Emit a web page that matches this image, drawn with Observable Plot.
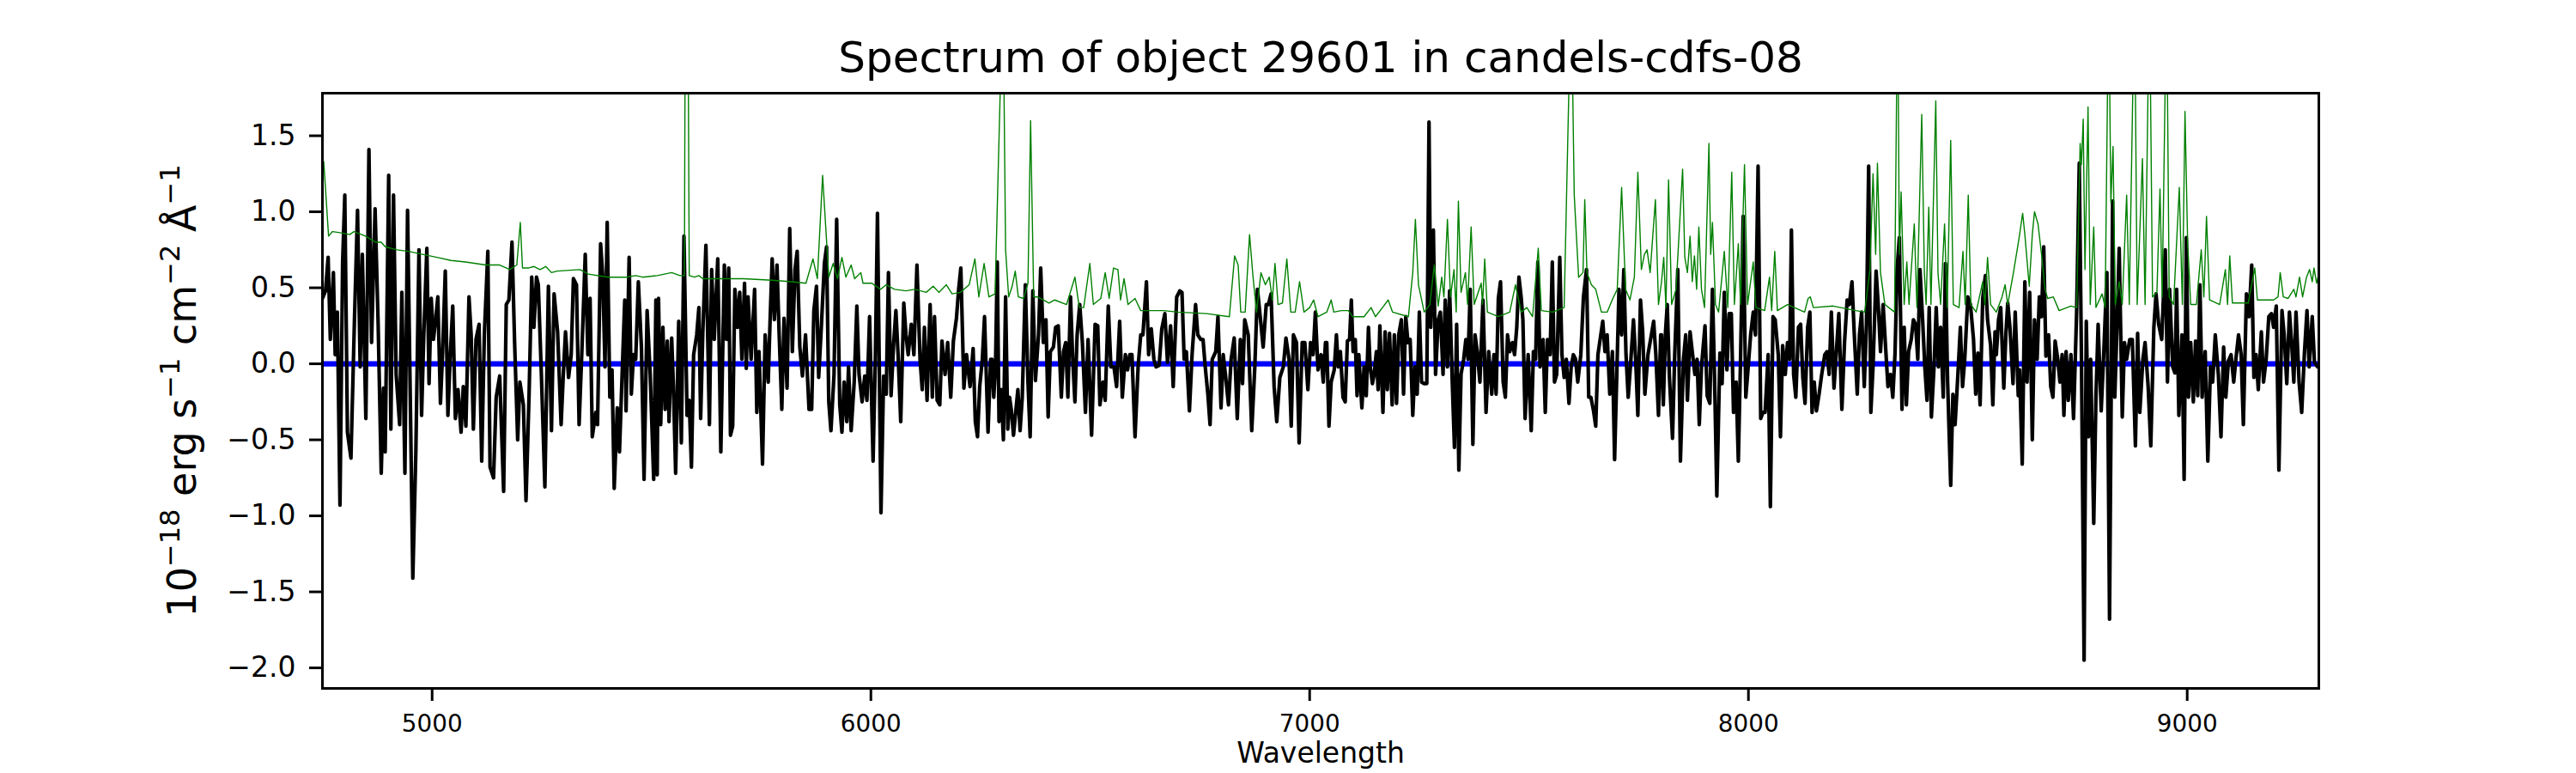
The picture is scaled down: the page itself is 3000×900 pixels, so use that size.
<!DOCTYPE html>
<html><head><meta charset="utf-8">
<script src="https://cdn.jsdelivr.net/npm/d3@7"></script>
<script src="https://cdn.jsdelivr.net/npm/@observablehq/plot@0.6"></script>
<style>body{margin:0;background:#fff;} svg{display:block;}</style>
</head><body><div id="chart"></div>
<script>
const title = "Spectrum of object 29601 in candels-cdfs-08";
const xLabel = "Wavelength";
// y label parts: [text, isSuperscript]
const yLabelParts = [["10", false], ["\u221218", true], [" erg s", false], ["\u22121", true], [" cm", false], ["\u22122", true], [" \u00c5", false], ["\u22121", true]];
const yLabel = yLabelParts.map(p => p[0]).join("");
const xTicks = [5000, 6000, 7000, 8000, 9000];
const yTicks = [-2, -1.5, -1, -0.5, 0, 0.5, 1, 1.5];
const xDomain = [4750, 9300];
const yDomain = [-2.135, 1.78];
const zeroLevel = [0];

// observed flux [wavelength, flux]
const fluxPoints = [
[4750,0.43],[4757,0.48],[4763,0.70],[4768,0.16],[4775,0.60],[4779,0.06],[4784,0.34],[4790,-0.93],[4796,0.67],[4801,1.11],[4807,-0.45],[4815,-0.62],[4823,0.29],[4830,1.01],[4836,-0.02],[4841,0.72],[4849,-0.36],[4856,1.41],[4862,0.14],[4870,1.02],[4877,0.26],[4884,-0.72],[4889,-0.16],[4893,-0.58],[4901,1.24],[4906,-0.43],[4912,1.11],[4918,-0.07],[4926,-0.40],[4931,0.47],[4938,-0.72],[4944,1.01],[4951,-0.38],[4956,-1.41],[4963,-0.57],[4970,0.75],[4976,-0.34],[4981,0.19],[4988,0.76],[4993,-0.13],[4998,0.43],[5003,0.16],[5008,0.29],[5013,0.44],[5019,-0.26],[5024,0.08],[5030,0.61],[5036,-0.34],[5041,0.03],[5047,0.38],[5053,-0.36],[5059,-0.17],[5066,-0.45],[5071,-0.15],[5077,-0.41],[5084,0.44],[5089,0.19],[5094,-0.43],[5100,0.16],[5107,0.26],[5113,-0.64],[5119,0.19],[5127,0.74],[5132,-0.68],[5140,-0.75],[5146,-0.22],[5154,-0.08],[5163,-0.84],[5169,0.39],[5175,0.42],[5182,0.80],[5188,0.14],[5195,-0.50],[5200,-0.12],[5208,-0.27],[5214,-0.90],[5221,-0.20],[5227,0.57],[5232,0.24],[5238,0.57],[5242,0.52],[5249,-0.07],[5257,-0.81],[5265,0.51],[5272,-0.44],[5278,0.46],[5286,0.21],[5294,-0.40],[5299,-0.07],[5304,0.21],[5311,-0.09],[5317,0.06],[5322,0.56],[5329,0.52],[5335,-0.40],[5342,0.14],[5349,0.72],[5355,0.06],[5360,0.43],[5365,-0.48],[5373,-0.32],[5377,-0.40],[5384,0.79],[5389,0.57],[5394,-0.02],[5399,0.93],[5405,-0.22],[5410,-0.04],[5415,-0.82],[5422,-0.29],[5427,-0.58],[5433,-0.07],[5439,0.42],[5442,-0.31],[5449,0.70],[5454,-0.20],[5459,0.06],[5464,0.03],[5470,0.54],[5477,0.11],[5483,-0.76],[5490,0.35],[5497,-0.07],[5505,-0.76],[5510,0.42],
[5513,-0.73],[5516,0.43],[5521,-0.40],[5526,0.24],[5531,-0.30],[5536,0.15],[5540,-0.38],[5546,0.17],[5550,-0.15],[5555,-0.72],[5562,0.28],[5568,-0.52],[5574,0.84],[5581,-0.34],[5586,-0.24],[5591,-0.68],[5596,0.06],[5603,0.19],[5608,0.37],[5612,-0.36],[5617,0.21],[5624,0.78],[5632,-0.40],[5637,0.62],[5643,0.16],[5651,0.69],[5658,-0.58],[5666,0.65],[5671,0.16],[5676,0.63],[5680,-0.47],[5685,-0.41],[5690,0.49],[5696,0.24],[5701,0.47],[5706,0.03],[5712,0.53],[5716,-0.03],[5720,0.44],[5727,0.03],[5735,0.49],[5740,-0.32],[5745,0.08],[5753,-0.66],[5759,0.19],[5766,-0.12],[5770,0.26],[5775,0.69],[5780,0.29],[5786,0.65],[5791,0.19],[5797,-0.30],[5802,0.30],[5809,-0.16],[5815,0.89],[5821,0.08],[5827,0.62],[5832,0.74],[5838,0.11],[5844,-0.08],[5851,0.19],[5859,-0.30],[5865,-0.30],[5870,0.35],[5876,0.51],[5881,-0.09],[5887,0.24],[5894,0.66],[5899,0.77],[5904,-0.25],[5909,-0.44],[5916,-0.07],[5922,0.95],[5929,-0.27],[5934,-0.45],[5939,-0.12],[5945,-0.38],[5949,-0.02],[5955,-0.44],[5962,-0.12],[5968,0.38],[5973,-0.07],[5980,-0.25],[5986,-0.08],[5991,-0.24],[5997,0.31],[6005,-0.64],[6010,0.01],[6015,0.99],[6023,-0.98],[6029,-0.08],[6035,-0.20],[6040,0.60],[6046,-0.21],[6052,0.14],[6057,0.35],[6062,0.06],[6068,-0.38],[6075,0.40],[6080,0.19],[6085,0.06],[6092,0.26],[6098,0.06],[6105,0.65],[6112,0.03],[6117,-0.17],[6122,0.24],[6128,-0.24],[6135,0.39],[6140,-0.22],[6145,0.31],[6151,-0.24],[6157,-0.27],[6162,0.15],[6169,-0.07],[6175,0.14],[6182,-0.22],[6188,0.15],[6195,0.30],[6200,0.49],[6205,0.63],[6212,-0.16],[6218,0.06],[6226,-0.15],[6233,0.10],[6238,-0.38],[6243,-0.48],[6248,-0.15],[6254,0.03],[6259,0.31],[6267,-0.45],[6273,0.03],
[6276,0.03],[6280,-0.22],[6284,-0.02],[6288,0.67],[6292,-0.38],[6297,-0.17],[6302,-0.50],[6307,0.44],[6312,-0.43],[6316,-0.22],[6320,-0.30],[6325,-0.47],[6329,-0.35],[6335,-0.17],[6340,-0.44],[6345,-0.22],[6352,0.52],[6358,-0.12],[6363,-0.48],[6369,0.48],[6375,-0.11],[6382,0.19],[6387,0.63],[6393,0.14],[6399,0.29],[6404,-0.35],[6409,0.08],[6416,0.11],[6421,0.24],[6427,0.25],[6434,-0.22],[6439,0.08],[6444,0.14],[6449,-0.22],[6455,0.44],[6460,0.03],[6465,-0.25],[6470,0.19],[6476,0.39],[6482,0.14],[6489,-0.32],[6495,0.16],[6503,-0.47],[6511,0.26],[6517,0.25],[6522,-0.27],[6529,-0.12],[6534,-0.24],[6541,0.38],[6547,-0.02],[6554,-0.02],[6560,-0.15],[6567,0.28],[6573,-0.22],[6580,0.06],[6585,-0.04],[6590,0.06],[6595,0.06],[6602,-0.48],[6609,-0.02],[6615,0.19],[6620,0.19],[6628,0.54],[6633,0.06],[6639,0.23],[6645,0.03],[6650,-0.02],[6657,-0.01],[6663,0.23],[6670,0.33],[6676,0.01],[6683,0.25],[6689,-0.15],[6697,0.44],[6704,0.48],[6709,0.47],[6714,0.03],[6719,0.08],[6726,-0.31],[6732,0.06],[6740,0.39],[6745,0.19],[6752,0.16],[6757,0.16],[6762,-0.02],[6768,-0.20],[6773,-0.40],[6778,0.03],[6786,0.08],[6791,0.31],[6798,-0.29],[6803,0.06],[6808,-0.07],[6815,-0.27],[6821,0.03],[6828,0.17],[6835,-0.36],[6842,0.16],[6847,-0.13],[6852,0.29],[6860,0.19],[6868,-0.44],[6875,-0.02],[6881,0.49],[6888,0.29],[6894,0.11],[6901,0.39],[6906,0.39],[6912,0.46],[6919,-0.15],[6925,-0.38],[6932,-0.09],[6940,-0.02],[6946,0.17],[6953,0.03],[6958,-0.41],[6963,0.19],[6970,0.14],[6976,-0.52],[6983,0.14],[6989,0.14],[6996,-0.17],[7002,0.14],[7008,0.06],[7013,0.34],[7019,-0.04],[7026,0.06],[7031,-0.12],[7036,0.14],
[7039,0.14],[7044,-0.41],[7049,-0.12],[7056,-0.04],[7061,0.19],[7065,-0.02],[7070,0.08],[7076,-0.22],[7081,-0.25],[7086,0.15],[7091,0.16],[7095,0.42],[7099,0.08],[7104,0.16],[7108,-0.21],[7112,0.06],[7119,-0.29],[7124,-0.02],[7129,-0.21],[7134,0.24],[7138,-0.02],[7143,-0.13],[7147,-0.07],[7152,0.08],[7156,-0.17],[7160,0.25],[7167,-0.32],[7172,0.21],[7177,-0.17],[7182,0.20],[7188,-0.27],[7193,0.19],[7198,-0.26],[7203,0.19],[7209,0.29],[7214,-0.20],[7219,0.31],[7224,0.14],[7229,0.16],[7235,-0.34],[7240,-0.02],[7245,-0.20],[7250,0.34],[7255,-0.12],[7261,-0.13],[7267,-0.13],[7272,1.59],[7276,0.24],[7282,0.88],[7287,-0.07],[7293,0.29],[7298,0.34],[7304,-0.07],[7309,0.42],[7314,-0.02],[7319,0.48],[7325,-0.12],[7330,-0.55],[7335,0.26],[7340,-0.70],[7345,-0.07],[7351,0.03],[7356,0.16],[7361,0.03],[7366,0.49],[7372,-0.53],[7377,0.19],[7382,0.08],[7388,-0.12],[7395,0.42],[7402,-0.32],[7408,0.08],[7415,-0.20],[7420,0.06],[7425,-0.20],[7430,0.43],[7435,0.54],[7441,-0.12],[7446,-0.22],[7451,0.19],[7456,0.08],[7462,0.14],[7467,0.06],[7472,0.24],[7477,0.57],[7482,0.44],[7486,0.29],[7491,-0.36],[7498,0.06],[7505,-0.44],[7510,0.08],[7515,0.03],[7520,0.67],[7525,-0.02],[7532,0.16],[7537,-0.32],[7542,0.16],[7548,0.06],[7553,0.67],[7558,-0.12],[7563,-0.07],[7570,0.70],[7575,0.06],[7580,-0.09],[7585,0.03],[7591,-0.26],[7596,-0.02],[7601,0.06],[7606,0.03],[7611,-0.12],[7618,0.06],[7624,0.44],[7631,0.62],[7636,-0.22],[7641,-0.22],[7647,-0.31],[7652,-0.41],[7657,0.06],[7662,0.16],[7668,0.28],[7673,0.08],[7678,0.19],[7684,-0.20],[7690,0.08],[7695,-0.63],[7700,-0.07],[7705,0.49],[7711,0.19],[7716,0.62],[7721,0.06],[7726,-0.22],[7731,-0.02],[7738,0.29],[7743,0.03],[7748,-0.34],[7754,0.42],[7759,0.21],[7764,-0.20],[7771,0.06],[7777,0.16],[7784,0.28],[7789,0.06],[7795,-0.34],[7800,0.19],
[7802,0.19],[7806,-0.27],[7811,0.21],[7815,0.39],[7820,-0.09],[7827,-0.49],[7832,0.06],[7839,0.62],[7845,-0.64],[7852,0.03],[7857,0.19],[7861,-0.24],[7867,0.21],[7872,0.08],[7878,-0.07],[7883,0.03],[7888,-0.40],[7893,-0.02],[7901,0.25],[7906,-0.21],[7912,-0.26],[7918,0.49],[7923,-0.12],[7928,-0.87],[7935,0.07],[7940,-0.13],[7945,0.47],[7951,-0.04],[7956,0.33],[7961,0.33],[7966,-0.32],[7972,-0.12],[7977,-0.64],[7982,0.03],[7988,0.97],[7994,-0.22],[7999,-0.04],[8005,0.19],[8011,0.34],[8016,0.19],[8022,1.30],[8028,-0.36],[8033,-0.32],[8038,-0.32],[8045,0.06],[8050,-0.94],[8056,0.31],[8061,0.29],[8068,0.06],[8073,-0.48],[8078,0.12],[8084,-0.07],[8089,0.14],[8094,0.03],[8098,0.88],[8103,-0.07],[8108,-0.22],[8114,0.24],[8119,0.26],[8124,-0.09],[8129,-0.26],[8135,0.24],[8140,0.34],[8145,-0.32],[8150,-0.12],[8155,-0.31],[8161,-0.20],[8167,-0.07],[8174,0.06],[8179,0.08],[8184,-0.07],[8189,0.34],[8195,-0.16],[8200,0.06],[8206,0.33],[8213,-0.30],[8219,0.14],[8225,0.42],[8230,0.39],[8236,0.54],[8241,0.21],[8248,-0.20],[8253,0.19],[8258,0.34],[8264,-0.15],[8269,0.26],[8274,1.30],[8279,-0.32],[8284,-0.02],[8291,0.61],[8296,0.38],[8301,0.08],[8307,0.39],[8312,0.14],[8318,-0.15],[8324,-0.07],[8329,-0.22],[8334,0.06],[8339,0.63],[8344,0.83],[8350,-0.30],[8355,0.24],[8360,-0.27],[8365,0.08],[8371,0.16],[8376,0.29],[8381,0.26],[8386,0.03],[8391,0.62],[8397,0.29],[8402,-0.02],[8407,-0.24],[8412,0.37],[8417,-0.35],[8423,-0.02],[8428,0.37],[8433,-0.02],[8438,0.24],[8444,-0.22],[8449,0.66],[8454,-0.12],[8461,-0.80],[8466,-0.20],[8471,-0.40],[8477,-0.09],[8483,0.24],[8488,-0.15],[8493,0.03],[8500,0.44],[8506,0.39],[8513,0.16],[8518,-0.20],[8523,0.07],[8528,-0.27],[8534,0.43],[8540,0.58],[8545,0.29],[8552,0.12],[8557,-0.27],[8562,0.21],
[8565,0.06],[8570,0.29],[8575,0.37],[8582,-0.16],[8587,0.21],[8591,0.40],[8596,0.24],[8603,-0.13],[8608,0.34],[8615,-0.21],[8618,-0.04],[8624,-0.66],[8630,0.54],[8635,-0.12],[8641,0.47],[8647,-0.50],[8652,0.29],[8658,0.03],[8663,0.44],[8668,0.31],[8673,0.77],[8678,0.05],[8684,0.19],[8689,-0.15],[8694,-0.22],[8699,0.15],[8705,0.03],[8710,-0.12],[8715,0.06],[8719,-0.34],[8724,0.08],[8729,-0.24],[8735,0.06],[8741,-0.36],[8748,0.34],[8754,1.32],[8759,0.03],[8765,-1.95],[8770,0.28],[8775,-0.48],[8780,0.03],[8787,-1.05],[8792,-0.22],[8797,0.26],[8804,-0.31],[8810,0.08],[8817,0.60],[8823,-1.68],[8830,1.07],[8835,-0.22],[8840,0.24],[8845,0.76],[8852,-0.35],[8857,0.14],[8862,0.03],[8869,0.16],[8875,0.16],[8882,-0.54],[8887,0.20],[8892,-0.32],[8899,0.03],[8904,0.14],[8911,-0.15],[8917,-0.54],[8924,0.24],[8929,0.46],[8935,0.26],[8942,0.16],[8950,0.75],[8955,-0.12],[8960,0.49],[8967,-0.02],[8972,-0.06],[8976,0.49],[8981,-0.34],[8988,0.19],[8993,-0.76],[8998,0.83],[9003,-0.22],[9008,0.14],[9014,-0.25],[9019,0.15],[9024,-0.21],[9029,0.52],[9034,-0.22],[9041,0.08],[9047,-0.64],[9053,-0.02],[9058,-0.12],[9064,0.19],[9071,-0.07],[9077,-0.48],[9083,0.11],[9088,-0.22],[9094,0.02],[9100,0.06],[9106,-0.12],[9111,0.03],[9117,0.19],[9123,0.06],[9128,-0.40],[9135,0.46],[9141,0.31],[9147,0.65],[9152,-0.09],[9157,0.06],[9162,-0.17],[9169,0.21],[9174,-0.12],[9180,0.03],[9186,0.31],[9192,0.33],[9197,0.24],[9203,0.38],[9209,-0.70],[9216,0.35],[9221,0.19],[9227,-0.13],[9233,0.34],[9238,0.14],[9243,-0.12],[9248,0.34],[9255,-0.12],[9261,-0.32],[9267,0.06],[9273,0.35],[9278,-0.02],[9285,0.31],[9290,0.01],[9297,-0.02]
];

// noise / sky spectrum [wavelength, value] (values above the top are clipped)
const skyPoints = [
[4753,1.33],[4764,0.84],[4773,0.87],[4796,0.86],[4812,0.85],[4822,0.87],[4848,0.84],[4871,0.80],[4884,0.80],[4893,0.77],[4920,0.75],[4946,0.74],[4978,0.72],[5011,0.70],[5043,0.68],[5076,0.67],[5122,0.65],[5154,0.65],[5177,0.62],[5193,0.65],[5201,0.93],[5206,0.63],[5219,0.63],[5232,0.64],[5246,0.62],[5259,0.64],[5272,0.60],[5285,0.61],[5337,0.62],[5356,0.59],[5402,0.57],[5441,0.57],[5464,0.58],[5480,0.57],[5513,0.58],
[5546,0.60],[5565,0.58],[5575,0.58],[5577,2.5],[5583,2.5],[5586,0.58],[5598,0.57],[5608,0.58],[5617,0.56],[5643,0.56],[5709,0.56],[5774,0.55],[5819,0.54],[5852,0.53],[5868,0.69],[5878,0.56],[5890,1.24],[5896,0.95],[5904,0.57],[5914,0.66],[5924,0.56],[5934,0.70],[5943,0.57],[5955,0.65],[5963,0.56],[5977,0.60],[5982,0.53],[6002,0.53],[6022,0.49],[6035,0.52],[6054,0.49],[6080,0.48],[6100,0.49],[6126,0.47],[6142,0.51],[6155,0.47],[6172,0.52],[6185,0.46],[6204,0.47],[6224,0.52],[6237,0.69],[6246,0.44],[6258,0.66],[6269,0.44],
[6283,0.46],[6301,2.5],[6307,0.75],[6314,0.44],[6322,0.51],[6329,0.61],[6336,0.44],[6348,0.43],[6358,0.53],[6364,1.60],[6371,0.44],[6380,0.44],[6406,0.40],[6419,0.42],[6446,0.39],[6465,0.57],[6475,0.37],[6485,0.37],[6499,0.66],[6507,0.39],[6524,0.43],[6534,0.60],[6543,0.43],[6553,0.63],[6563,0.62],[6569,0.42],[6577,0.56],[6586,0.39],[6602,0.43],[6615,0.35],[6667,0.35],[6700,0.34],[6765,0.33],[6817,0.31],[6829,0.71],[6837,0.65],[6843,0.34],[6853,0.34],[6863,0.85],[6871,0.57],[6879,0.34],[6889,0.60],[6899,0.52],[6908,0.57],[6915,0.42],[6921,0.66],[6928,0.39],[6938,0.40],[6948,0.69],[6957,0.34],[6967,0.34],[6977,0.54],[6987,0.34],[7000,0.37],[7009,0.42],[7019,0.31],[7039,0.34],
[7049,0.42],[7055,0.34],[7072,0.35],[7088,0.35],[7098,0.31],[7124,0.31],[7140,0.37],[7150,0.31],[7166,0.37],[7179,0.42],[7189,0.34],[7225,0.31],[7235,0.60],[7241,0.95],[7248,0.52],[7261,0.34],[7274,0.39],[7284,0.65],[7293,0.38],[7301,0.57],[7306,0.44],[7314,0.95],[7321,0.44],[7329,0.62],[7334,0.34],[7339,1.07],[7345,0.47],[7355,0.60],[7360,0.39],[7368,0.90],[7375,0.39],[7391,0.53],[7394,0.39],[7399,0.69],[7405,0.34],[7430,0.31],[7456,0.34],[7469,0.52],[7482,0.34],[7495,0.37],[7508,0.31],[7521,0.76],[7528,0.35],[7554,0.34],[7580,0.37],[7596,2.5],[7603,1.11],[7613,0.57],[7623,0.60],[7627,1.08],[7632,0.60],[7642,0.52],[7652,0.49],[7665,0.34],[7678,0.34],[7691,0.43],[7701,0.49],[7711,1.16],[7720,0.49],[7730,0.42],[7740,0.57],[7748,1.26],[7756,0.62],[7763,0.72],[7769,0.75],[7776,0.60],[7788,1.08],[7795,0.39],[7802,0.54],
[7807,0.70],[7812,0.37],[7818,1.21],[7825,0.39],[7835,0.49],[7850,1.28],[7855,0.70],[7861,0.60],[7867,0.84],[7872,0.54],[7877,0.71],[7882,0.49],[7887,0.90],[7893,0.49],[7900,0.37],[7910,1.45],[7914,0.72],[7918,0.93],[7925,0.39],[7932,0.34],[7945,0.74],[7953,0.37],[7962,1.26],[7968,0.39],[7977,0.79],[7982,0.39],[7991,1.31],[7998,0.39],[8011,0.67],[8017,0.37],[8037,0.35],[8048,0.57],[8053,0.35],[8060,0.74],[8066,0.35],[8089,0.39],[8128,0.34],[8136,0.43],[8141,0.44],[8148,0.37],[8193,0.38],[8245,0.35],[8265,0.34],[8277,0.62],[8284,1.25],[8290,0.72],[8294,1.32],[8301,0.60],[8311,0.39],[8333,0.34],[8340,2.5],[8344,0.72],[8348,1.13],[8355,0.39],[8361,0.67],[8366,0.39],[8378,0.92],[8384,0.37],[8395,1.64],[8401,0.60],[8405,0.39],[8411,1.03],[8416,0.39],[8427,1.73],[8432,0.60],[8438,0.39],[8447,0.92],[8453,0.37],[8461,1.47],[8467,0.39],[8480,0.37],[8489,0.74],[8494,0.39],[8501,1.11],[8507,0.39],[8519,0.34],[8534,0.54],[8539,0.39],[8545,0.70],[8552,0.39],[8565,0.34],
[8578,0.44],[8585,0.52],[8591,0.39],[8604,0.60],[8617,0.83],[8625,0.99],[8630,0.85],[8640,0.51],[8647,0.85],[8652,1.00],[8660,0.92],[8668,0.72],[8676,0.49],[8682,0.43],[8695,0.44],[8708,0.35],[8735,0.38],[8748,0.37],[8756,1.45],[8759,1.31],[8763,1.61],[8767,0.62],[8774,1.69],[8779,0.39],[8787,0.90],[8792,0.37],[8806,0.46],[8813,0.37],[8821,2.5],[8826,1.06],[8831,1.43],[8836,0.39],[8845,0.54],[8852,0.39],[8862,1.11],[8868,0.39],[8880,2.5],[8886,0.39],[8898,1.35],[8904,0.39],[8914,2.5],[8921,0.44],[8931,0.47],[8938,1.15],[8943,0.44],[8953,2.5],[8959,0.44],[8969,0.39],[8982,1.16],[8989,0.39],[8995,1.66],[9001,0.80],[9008,0.39],[9021,0.39],[9032,0.75],[9038,0.44],[9044,0.97],[9051,0.42],[9074,0.39],[9087,0.62],[9092,0.39],[9097,0.71],[9103,0.40],[9126,0.40],[9139,0.40],[9154,0.63],[9160,0.42],[9197,0.42],[9207,0.44],[9212,0.60],[9219,0.44],[9230,0.43],[9243,0.49],[9248,0.44],[9256,0.57],[9263,0.44],[9272,0.57],[9279,0.62],[9285,0.54],[9289,0.63],[9295,0.53],[9298,0.57]
];

const fmtY = d => (d < 0 ? "\u2212" : "") + Math.abs(d).toFixed(1);

const chart = Plot.plot({
  width: 3000,
  height: 900,
  marginLeft: 375,
  marginRight: 300,
  marginTop: 108,
  marginBottom: 99,
  style: {fontFamily: "DejaVu Sans", background: "white", color: "black"},
  x: {domain: xDomain},
  y: {domain: yDomain},
  marks: [
    Plot.ruleY(zeroLevel, {stroke: "#0000ff", strokeWidth: 6.3}),
    Plot.line(fluxPoints, {x: d => d[0], y: d => d[1], stroke: "black", strokeWidth: 4.2, strokeLinejoin: "round", clip: true}),
    Plot.line(skyPoints, {x: d => d[0], y: d => d[1], stroke: "#008000", strokeWidth: 1.4, strokeLinejoin: "round", clip: true}),
    Plot.frame({stroke: "black", strokeWidth: 3}),
    Plot.axisX({ticks: xTicks, tickFormat: d => String(d), tickSize: 15, tickPadding: 16, fontSize: 27.8, strokeWidth: 3, label: null}),
    Plot.axisY({ticks: yTicks, tickFormat: fmtY, tickSize: 15, tickPadding: 16, fontSize: 33, strokeWidth: 3, label: null}),
    Plot.text([title], {text: d => d, frameAnchor: "top", lineAnchor: "bottom", dy: -25, fontSize: 50, fill: "black"}),
    Plot.text([xLabel], {text: d => d, frameAnchor: "bottom", lineAnchor: "bottom", dy: 86, fontSize: 33, fill: "black"}),
    Plot.text([yLabel], {text: d => d, frameAnchor: "left", textAnchor: "middle", rotate: -90, lineAnchor: "bottom", dx: -148, fontSize: 46, fill: "black"})
  ]
});
document.getElementById("chart").appendChild(chart);

// render the y label with real superscripts
const baseSize = 46, supSize = 32, supShift = 19;
d3.select(chart).selectAll("text").filter(function() { return this.textContent === yLabel; }).each(function() {
  const t = d3.select(this);
  t.text(null);
  let raised = false;
  for (const [s, sup] of yLabelParts) {
    const span = t.append("tspan").text(s);
    if (sup && !raised) { span.attr("font-size", supSize).attr("dy", -supShift); raised = true; }
    else if (!sup && raised) { span.attr("font-size", baseSize).attr("dy", supShift); raised = false; }
    else { span.attr("font-size", sup ? supSize : baseSize); }
  }
});
</script>
</body></html>
